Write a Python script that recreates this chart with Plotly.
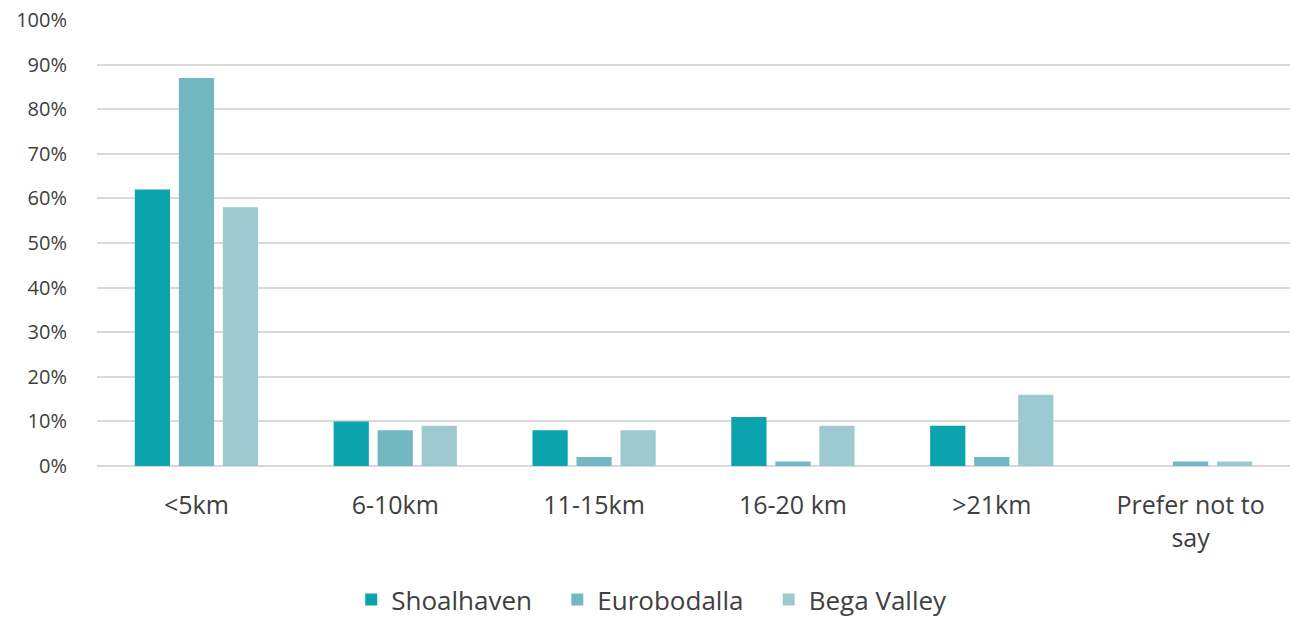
import plotly.graph_objects as go

categories = ["<5km", "6-10km", "11-15km", "16-20 km", ">21km", "Prefer not to<br>say"]
shoalhaven = [62, 10, 8, 11, 9, 0]
eurobodalla = [87, 8, 2, 1, 2, 1]
bega_valley = [58, 9, 8, 9, 16, 1]
y_ticks = [0, 10, 20, 30, 40, 50, 60, 70, 80, 90, 100]
y_labels = [f"{v}%" for v in y_ticks]

pad = "\u00a0" * 3
series = [("Shoalhaven" + pad, shoalhaven, "#0BA3AE"),
          ("Eurobodalla" + pad, eurobodalla, "#72B8C3"),
          ("Bega Valley", bega_valley, "#9CCAD0")]

fig = go.Figure()
for name, vals, col in series:
    fig.add_trace(go.Bar(x=categories, y=vals, name=name, marker_color=col,
                         marker_line_width=0))

font_family = "Open Sans, sans-serif"
fig.update_layout(
    width=1293, height=617, autosize=False,
    margin=dict(l=97, r=3, t=20, b=151),
    paper_bgcolor="white", plot_bgcolor="white",
    barmode="group", bargap=0.336, bargroupgap=0.2,
    font=dict(family=font_family, size=20, color="#404040"),
    legend=dict(orientation="h", x=0.465, xanchor="center",
                yref="container", y=0.028, yanchor="middle",
                font=dict(size=26, color="#404040"), itemwidth=30, traceorder="normal"),
    xaxis=dict(showgrid=False, showline=False, ticks="", tickfont=dict(size=25),
               ticklabelstandoff=22, automargin=False),
    yaxis=dict(range=[0, 100], tickvals=y_ticks, ticktext=y_labels, showgrid=True,
               gridcolor="#D9D9D9", gridwidth=1.5, zeroline=True, zerolinecolor="#D9D9D9",
               zerolinewidth=1.5, tickfont=dict(size=20), ticklabelstandoff=29,
               automargin=False),
)
fig.write_html("out.html", config={"displayModeBar": False, "responsive": False},
               post_script="document.body.style.margin='0';document.documentElement.style.overflow='hidden';")
